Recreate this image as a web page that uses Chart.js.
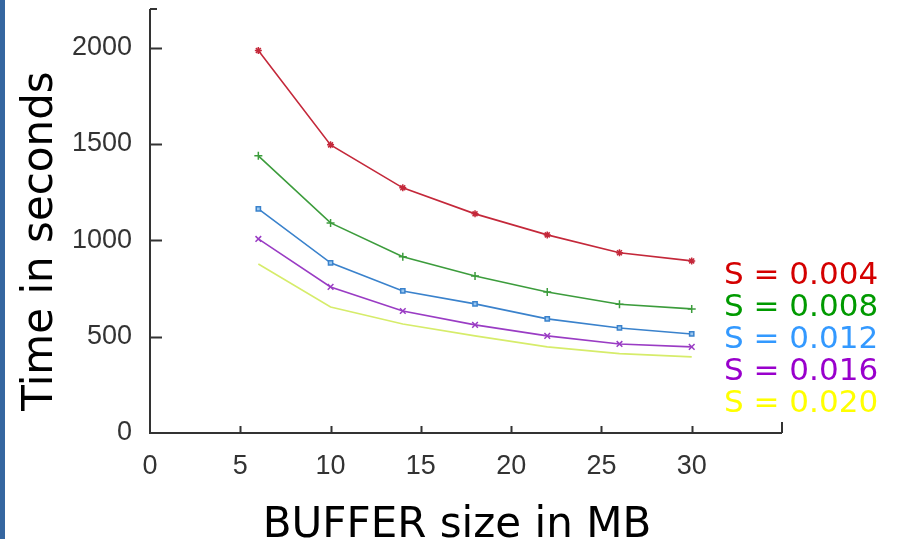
<!DOCTYPE html>
<html>
<head>
<meta charset="utf-8">
<script src="https://cdn.jsdelivr.net/npm/chart.js@4/dist/chart.umd.min.js"></script>
<style>
  html, body { margin: 0; padding: 0; background: #ffffff; }
  #wrap { position: relative; width: 902px; height: 539px; overflow: hidden; }
  #strip { position: absolute; left: 0; top: 0; width: 5px; height: 539px; background: #3566a0; }
  canvas { position: absolute; left: 0; top: 0; }
</style>
</head>
<body>
<div id="wrap">
  <canvas id="c" width="902" height="539"></canvas>
  <div id="strip"></div>
</div>
<script>
// ---- data ----
const bufferSizes = [6, 10, 14, 18, 22, 26, 30];
const seriesNames = ["S = 0.004", "S = 0.008", "S = 0.012", "S = 0.016", "S = 0.020"];
const s004 = [1985, 1495, 1272, 1137, 1028, 935, 893];
const s008 = [1438, 1090, 914, 815, 732, 668, 644];
const s012 = [1163, 883, 737, 670, 592, 545, 514];
const s016 = [1007, 758, 633, 561, 504, 462, 447];
const s020 = [877, 654, 566, 504, 447, 412, 395];
const xTickValues = [0, 5, 10, 15, 20, 25, 30];
const yTickValues = [0, 500, 1000, 1500, 2000];
const xTitle = "BUFFER size in MB";
const yTitle = "Time in seconds";

// ---- styles ----
const lineColors = ["#c4283a", "#3c9c3c", "#3a82cc", "#9a3cc4", "#d6ec6a"];
const legendColors = ["#d40000", "#009a00", "#3399ff", "#9900cc", "#ffff00"];
const pointStyles = ["star", "cross", "rect", "crossRot", "circle"];
const pointRadii = [3.5, 4, 3, 4, 0];
const allSeries = [s004, s008, s012, s016, s020];

const datasets = allSeries.map((vals, i) => ({
  label: seriesNames[i],
  data: bufferSizes.map((x, j) => ({ x: x, y: vals[j] })),
  borderColor: lineColors[i],
  backgroundColor: lineColors[i],
  borderWidth: 1.6,
  pointStyle: pointStyles[i],
  pointRadius: pointRadii[i],
  pointBorderWidth: 1.5,
  pointBorderColor: lineColors[i],
  pointBackgroundColor: i === 2 ? "#9cc8f0" : lineColors[i],
  tension: 0,
  fill: false
}));

function zeroPad(s) { s.paddingTop = 0; s.paddingBottom = 0; s.paddingLeft = 0; s.paddingRight = 0; }

const decor = {
  id: "decor",
  afterDraw(chart) {
    const ctx = chart.ctx;
    const xs = chart.scales.x, ys = chart.scales.y;
    const left = xs.left, bottom = ys.bottom;
    ctx.save();
    ctx.strokeStyle = "#333333";
    ctx.lineWidth = 2;
    // axes
    ctx.beginPath();
    ctx.moveTo(left, ys.getPixelForValue(ys.max));
    ctx.lineTo(left, bottom);
    ctx.lineTo(xs.getPixelForValue(xs.max), bottom);
    ctx.stroke();
    // inward ticks
    ctx.beginPath();
    xTickValues.forEach(v => {
      if (v === xs.min) return;
      const p = Math.round(xs.getPixelForValue(v)) + 0.5;
      ctx.moveTo(p, bottom); ctx.lineTo(p, bottom - 7);
    });
    const pe = Math.round(xs.getPixelForValue(xs.max));
    ctx.moveTo(pe, bottom); ctx.lineTo(pe, bottom - 11);
    yTickValues.forEach(v => {
      if (v === ys.min) return;
      const p = Math.round(ys.getPixelForValue(v)) + 0.5;
      ctx.moveTo(left, p); ctx.lineTo(left + 12, p);
    });
    const pt = Math.round(ys.getPixelForValue(ys.max));
    ctx.moveTo(left, pt); ctx.lineTo(left + 7, pt);
    ctx.stroke();

    // axis titles
    ctx.fillStyle = "#000000";
    ctx.font = "42px 'DejaVu Sans'";
    ctx.textAlign = "center";
    ctx.textBaseline = "alphabetic";
    ctx.fillText(xTitle, 457, 537);
    ctx.translate(52, 241);
    ctx.rotate(-Math.PI / 2);
    ctx.fillText(yTitle, 0, 0);
    ctx.setTransform(1, 0, 0, 1, 0, 0);

    // legend text
    ctx.font = "31px 'DejaVu Sans'";
    ctx.textAlign = "left";
    seriesNames.forEach((name, i) => {
      ctx.fillStyle = legendColors[i];
      ctx.fillText(name, 724, 284 + i * 32);
    });
    ctx.restore();
  }
};

new Chart(document.getElementById("c"), {
  type: "line",
  data: { datasets: datasets },
  options: {
    responsive: false,
    animation: false,
    events: [],
    layout: { padding: { top: 9, right: 120, left: 0, bottom: 0 } },
    plugins: { legend: { display: false }, tooltip: { enabled: false } },
    scales: {
      x: {
        type: "linear",
        min: 0,
        max: 35,
        afterBuildTicks: s => { s.ticks = xTickValues.map(v => ({ value: v })); },
        afterFit: s => { s.height = 106; zeroPad(s); },
        grid: { display: false, drawTicks: false },
        border: { display: false },
        ticks: {
          color: "#333333",
          font: { family: "'Liberation Sans'", size: 27 },
          padding: 17,
          maxRotation: 0,
          autoSkip: false,
          callback: v => String(v)
        }
      },
      y: {
        type: "linear",
        min: 0,
        max: 2200,
        afterBuildTicks: s => { s.ticks = yTickValues.map(v => ({ value: v })); },
        afterFit: s => { s.width = 150; zeroPad(s); },
        grid: { display: false, drawTicks: false },
        border: { display: false },
        ticks: {
          color: "#333333",
          font: { family: "'Liberation Sans'", size: 27 },
          padding: 18,
          autoSkip: false,
          callback: v => String(v)
        }
      }
    }
  },
  plugins: [decor]
});
</script>
</body>
</html>
